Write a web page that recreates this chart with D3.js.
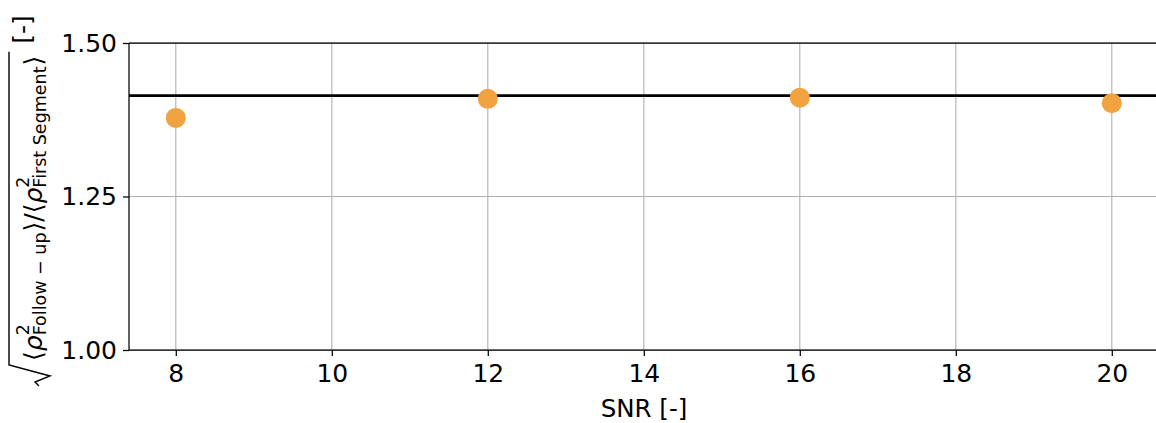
<!DOCTYPE html>
<html>
<head>
<meta charset="utf-8">
<script src="https://cdn.jsdelivr.net/npm/d3@7"></script>
<style>
  body { margin: 0; background: #fff; }
  text { font-family: "DejaVu Sans", sans-serif; fill: #000; }
</style>
</head>
<body>
<div id="chart"></div>
<script>
// data
let snr = [8, 12, 16, 20];
let ratio = [1.378, 1.409, 1.411, 1.402];
let reference = Math.SQRT2;
let xticks = [8, 10, 12, 14, 16, 18, 20];
let yticks = [1.00, 1.25, 1.50];

let W = 1156, H = 423;
let margin = {top: 43, left: 129, bottom: 73};

let svg = d3.select("#chart").append("svg")
    .attr("width", W)
    .attr("height", H);

let x = d3.scaleLinear()
    .domain([7.4, 20.6])
    .range([margin.left, margin.left + 13.2 * 78]);

let y = d3.scaleLinear()
    .domain([1.0, 1.5])
    .range([H - margin.bottom, margin.top]);

// grid
svg.append("g").selectAll("line.vg")
    .data(xticks).enter().append("line")
    .attr("x1", d => x(d)).attr("x2", d => x(d))
    .attr("y1", y(1.0)).attr("y2", y(1.5))
    .style("stroke", "#b0b0b0").style("stroke-width", 1.1);

svg.append("g").selectAll("line.hg")
    .data(yticks).enter().append("line")
    .attr("x1", x(7.4)).attr("x2", W)
    .attr("y1", d => y(d)).attr("y2", d => y(d))
    .style("stroke", "#b0b0b0").style("stroke-width", 1.1);

// axes
let xaxis = svg.append("g")
    .attr("transform", "translate(0," + y(1.0) + ")")
    .call(d3.axisBottom(x).tickValues(xticks).tickSize(6).tickPadding(8).tickFormat(d3.format("d")));

let yaxis = svg.append("g")
    .attr("transform", "translate(" + x(7.4) + ",0)")
    .call(d3.axisLeft(y).tickValues(yticks).tickSize(6).tickPadding(6).tickFormat(d3.format(".2f")));

[xaxis, yaxis].forEach(a => {
    a.select(".domain").remove();
    a.selectAll(".tick line").style("stroke", "#000").style("stroke-width", 1.25);
    a.selectAll(".tick text").style("font-size", "25px").style("font-family", "DejaVu Sans");
});

// spines
svg.append("line").attr("x1", x(7.4)).attr("x2", W).attr("y1", y(1.0)).attr("y2", y(1.0))
    .style("stroke", "#000").style("stroke-width", 1.25);
svg.append("line").attr("x1", x(7.4)).attr("x2", W).attr("y1", y(1.5)).attr("y2", y(1.5))
    .style("stroke", "#000").style("stroke-width", 1.25);
svg.append("line").attr("x1", x(7.4)).attr("x2", x(7.4)).attr("y1", y(1.0)).attr("y2", y(1.5))
    .style("stroke", "#000").style("stroke-width", 1.25);

// reference line at sqrt(2)
svg.append("line")
    .attr("x1", x(7.4)).attr("x2", W)
    .attr("y1", y(reference)).attr("y2", y(reference))
    .style("stroke", "#000").style("stroke-width", 2.6);

// points
svg.selectAll("circle.pt")
    .data(snr).enter().append("circle")
    .attr("cx", d => x(d))
    .attr("cy", (d, i) => y(ratio[i]))
    .attr("r", 10)
    .style("fill", "#f1a340");

// x label
svg.append("text")
    .attr("x", 644).attr("y", 417)
    .attr("text-anchor", "middle")
    .style("font-size", "24.5px")
    .text("SNR [-]");

// y label (math laid out by hand)
let lab = svg.append("g")
    .attr("transform", "translate(42,361) rotate(-90)");
let cur = 0;
function put(s, size, italic, dy, advance) {
    let t = lab.append("text")
        .attr("x", cur).attr("y", dy)
        .style("font-size", size + "px")
        .style("font-style", italic ? "italic" : "normal")
        .text(s);
    let w = t.node().getComputedTextLength();
    if (advance) cur += w;
    return w;
}
let big = 25, small = 17.5;
put("\u27E8", big, false, 0, true);
put("\u03C1", big, true, 0, true);
let w1 = put("2", small, false, -13, false);
let w2 = put("Follow \u2212 up", small, false, 4, false);
cur += Math.max(w1, w2) + 1;
put("\u27E9", big, false, 0, true);
put("/", big, false, 0, true);
put("\u27E8", big, false, 0, true);
put("\u03C1", big, true, 0, true);
w1 = put("2", small, false, -13, false);
w2 = put("First Segment", small, false, 4, false);
cur += Math.max(w1, w2) + 1;
put("\u27E9", big, false, 0, true);
let endSqrt = cur + 4;
cur += 12;
put("[-]", big, false, -11, true);
// radical sign
lab.append("path")
    .attr("d", "M-25,-3 L-21,-7 L-15,8 L-4,-33 L" + endSqrt + ",-33")
    .style("fill", "none").style("stroke", "#000").style("stroke-width", 1.4);
</script>
</body>
</html>
